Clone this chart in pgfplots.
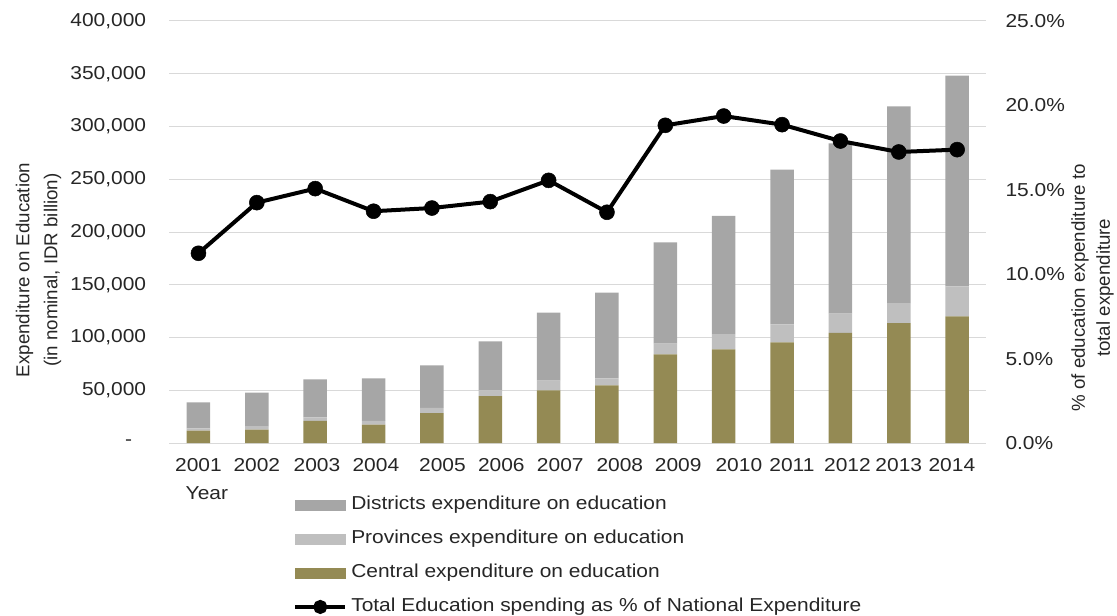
\documentclass[border=0pt]{standalone}
\usepackage{pgfplots}
\pgfplotsset{compat=1.18}
\usepackage{pgfplotstable}
\usepackage{fontspec}
\setmainfont{Liberation Sans}[FakeStretch=1.12]
\newfontfamily\rotfont{Liberation Sans}
\definecolor{distcol}{HTML}{A6A6A6}
\definecolor{provcol}{HTML}{BFBFBF}
\definecolor{centcol}{HTML}{948A54}
\definecolor{gridcol}{HTML}{D9D9D9}
\definecolor{txt}{HTML}{262626}

\pgfplotstableread{
x central prov dist pct
0 11700 2200 24700 11.24
1 12600 3500 31600 14.24
2 20900 3500 36000 15.07
3 17400 3500 40400 13.73
4 28400 4800 40400 13.92
5 44500 5400 46500 14.30
6 49900 9200 64400 15.56
7 54700 6600 81200 13.67
8 84100 10000 96100 18.82
9 88800 14500 111900 19.37
10 95400 17100 146600 18.86
11 104500 18100 161500 17.89
12 113700 19000 186400 17.24
13 120100 28400 199700 17.38
}\datatable

\begin{document}
\begin{tikzpicture}
\useasboundingbox (-169.3pt,-173pt) rectangle (947.7pt,443pt);
\pgfplotsset{
  base/.style={
    scale only axis, width=817pt, height=422pt,
    at={(0pt,0pt)}, anchor=south west,
    xmin=-0.5, xmax=13.5,
    font=\fontsize{18.7}{22}\selectfont,
    axis line style={draw=none},
    major tick length=0pt,
    every tick label/.append style={text=txt},
  }
}
\begin{axis}[base,
  ybar stacked, bar width=23.5pt,
  ymin=0, ymax=400000,
  ytick={0,50000,100000,150000,200000,250000,300000,350000,400000},
  yticklabels={{-\kern14pt},{50,000},{100,000},{150,000},{200,000},{250,000},{300,000},{350,000},{400,000}},
  scaled y ticks=false,
  ymajorgrids, grid style={gridcol, line width=1pt},
  xtick={0,1,2.03,3.04,4.18,5.19,6.2,7.22,8.22,9.26,10.17,11.12,12,12.91},
  xticklabels={2001,2002,2003,2004,2005,2006,2007,2008,2009,2010,2011,2012,2013,2014},
  xticklabel style={anchor=north, inner sep=0pt},
  xticklabel shift=15pt,
  yticklabel style={anchor=east, inner sep=0pt},
  yticklabel shift=23pt,
  clip=false,
]
\addplot[fill=centcol, draw=none] table[x=x,y=central]{\datatable};
\addplot[fill=provcol, draw=none] table[x=x,y=prov]{\datatable};
\addplot[fill=distcol, draw=none] table[x=x,y=dist]{\datatable};
\node[rotate=90, align=center, font=\rotfont\fontsize{18.7}{28}\selectfont, text=txt]
  at (rel axis cs:-0.160,0.41) {Expenditure on Education\\(in nominal, IDR billion)};
\node[text=txt] at (rel axis cs:0.046,-0.118) {Year};
\node[rotate=90, align=center, font=\rotfont\fontsize{18.7}{25}\selectfont, text=txt]
  at (rel axis cs:1.130,0.368) {\% of education expenditure to\\total expenditure};
\end{axis}
\begin{axis}[base,
  ymin=0, ymax=25,
  axis y line*=right,
  hide x axis,
  ytick={0,5,10,15,20,25},
  yticklabels={0.0\%,5.0\%,10.0\%,15.0\%,20.0\%,25.0\%},
  yticklabel style={anchor=west, inner sep=0pt},
  yticklabel shift=19pt,
  clip=false,
  legend cell align=left,
  legend style={at={(rel axis cs:0.1515,-0.125)}, anchor=north west,
    draw=none, fill=none, inner sep=0pt, row sep=16pt, column sep=4pt,
    nodes={inner sep=0pt, text height=14pt, text depth=4pt, text=txt},
    font=\fontsize{18.7}{22}\selectfont},
]
\addlegendimage{legend image code/.code={\fill[distcol] (0pt,-5pt) rectangle (50pt,5pt);}}
\addlegendentry{Districts expenditure on education}
\addlegendimage{legend image code/.code={\fill[provcol] (0pt,-5pt) rectangle (50pt,5pt);}}
\addlegendentry{Provinces expenditure on education}
\addlegendimage{legend image code/.code={\fill[centcol] (0pt,-5pt) rectangle (50pt,5pt);}}
\addlegendentry{Central expenditure on education}
\addplot[black, line width=4pt, mark=*, mark size=7.5pt, mark options={solid, fill=black, line width=0.5pt},
  legend image code/.code={\draw[black, line width=4pt] (0pt,0pt) -- (50pt,0pt); \fill[black] (25pt,0pt) circle (5pt);}]
  table[x=x,y=pct]{\datatable};
\addlegendentry{Total Education spending as \% of National Expenditure}
\end{axis}
\end{tikzpicture}
\end{document}
